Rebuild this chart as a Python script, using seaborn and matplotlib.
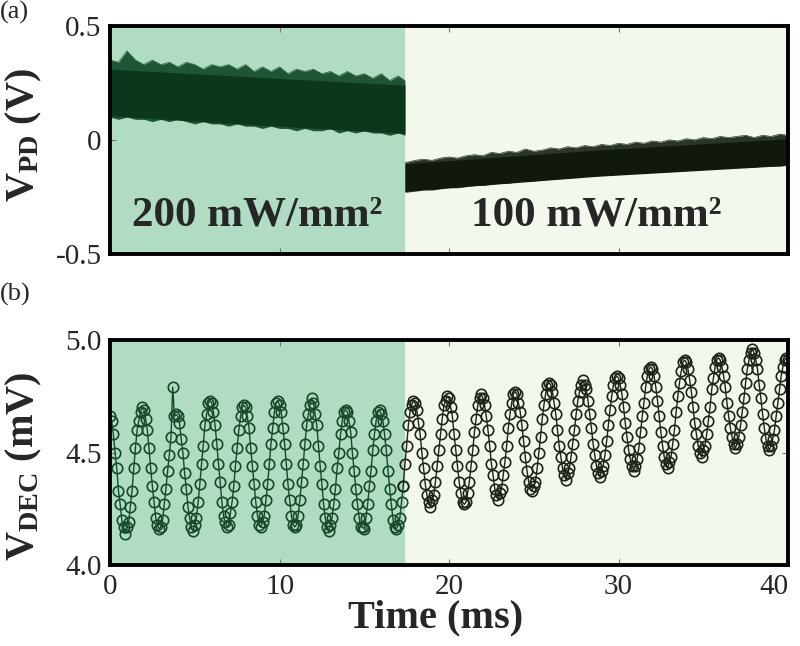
import numpy as np
import pandas as pd
import matplotlib
matplotlib.use("Agg")
import matplotlib.pyplot as plt
import seaborn as sns

# ---------------- data ----------------
t_switch = 17.4  # ms, power switch time

# (a) photodiode signal envelope, segment 1 (200 mW/mm2)
pd1_t = [0.0, 0.5, 1.0, 1.5, 2.0, 2.5, 3.0, 3.5, 4.0, 4.5, 5.0, 5.5, 6.0, 6.5, 7.0, 7.5,
         8.0, 8.5, 9.0, 9.5, 10.0, 10.5, 11.0, 11.5, 12.0, 12.5, 13.0, 13.5, 14.0, 14.5,
         15.0, 15.5, 16.0, 16.5, 17.0, 17.4]
pd1_upper = [0.35, 0.34, 0.39, 0.35, 0.33, 0.35, 0.33, 0.34, 0.32, 0.34, 0.33, 0.31, 0.33, 0.32,
             0.33, 0.31, 0.33, 0.30, 0.32, 0.30, 0.32, 0.29, 0.31, 0.30, 0.31, 0.29, 0.30, 0.28,
             0.30, 0.28, 0.29, 0.27, 0.29, 0.26, 0.28, 0.26]
pd1_lower = [0.10, 0.09, 0.10, 0.09, 0.09, 0.08, 0.09, 0.08, 0.09, 0.08, 0.07, 0.08, 0.07, 0.07,
             0.06, 0.07, 0.06, 0.06, 0.05, 0.06, 0.05, 0.05, 0.04, 0.05, 0.04, 0.04, 0.05, 0.03,
             0.04, 0.03, 0.04, 0.03, 0.03, 0.02, 0.03, 0.02]
pd1_core_t = [0.0, 8.7, 17.4]
pd1_core_upper = [0.31, 0.275, 0.24]
pd1_core_lower = [0.105, 0.065, 0.028]

# (a) segment 2 (100 mW/mm2)
pd2_t = [17.4, 18.0, 18.5, 19.0, 19.5, 20.0, 20.5, 21.0, 21.5, 22.0, 22.5, 23.0, 23.5, 24.0,
         24.5, 25.0, 25.5, 26.0, 26.5, 27.0, 27.5, 28.0, 28.5, 29.0, 29.5, 30.0, 30.5, 31.0,
         31.5, 32.0, 32.5, 33.0, 33.5, 34.0, 34.5, 35.0, 35.5, 36.0, 36.5, 37.0, 37.5, 38.0,
         38.5, 39.0, 39.5, 40.0]
pd2_upper = [-0.10, -0.09, -0.085, -0.09, -0.08, -0.075, -0.08, -0.07, -0.065, -0.07, -0.055,
             -0.06, -0.05, -0.055, -0.04, -0.05, -0.045, -0.035, -0.04, -0.03, -0.035, -0.025,
             -0.03, -0.02, -0.025, -0.015, -0.02, -0.01, -0.015, -0.005, -0.01, 0.0, -0.005,
             0.005, 0.0, 0.01, 0.005, 0.015, 0.01, 0.015, 0.02, 0.01, 0.02, 0.015, 0.025, 0.02]
pd2_lower = [-0.23, -0.225, -0.22, -0.22, -0.215, -0.21, -0.21, -0.205, -0.20, -0.20, -0.195,
             -0.19, -0.19, -0.185, -0.18, -0.18, -0.175, -0.17, -0.17, -0.165, -0.165, -0.16,
             -0.16, -0.155, -0.155, -0.15, -0.15, -0.145, -0.145, -0.14, -0.14, -0.14, -0.135,
             -0.135, -0.13, -0.13, -0.13, -0.125, -0.125, -0.12, -0.12, -0.12, -0.115, -0.115,
             -0.115, -0.11]
pd2_core_t = [17.4, 28.7, 40.0]
pd2_core_upper = [-0.105, -0.045, 0.005]
pd2_core_lower = [-0.225, -0.16, -0.112]

# (b) decoded signal, sampled every 0.1 ms from 0 to 40 ms
vdec = [
    4.66, 4.64, 4.58, 4.50, 4.43, 4.33, 4.27, 4.20, 4.17, 4.14, 4.17, 4.19, 4.26, 4.33, 4.43, 4.52, 4.60, 4.64, 4.68, 4.70,
    4.69, 4.65, 4.60, 4.52, 4.43, 4.35, 4.28, 4.21, 4.18, 4.16, 4.17, 4.20, 4.27, 4.34, 4.42, 4.49, 4.57, 4.79, 4.66, 4.67,
    4.66, 4.63, 4.56, 4.50, 4.41, 4.34, 4.26, 4.21, 4.17, 4.15, 4.18, 4.21, 4.28, 4.36, 4.45, 4.53, 4.62, 4.67, 4.72, 4.73,
    4.72, 4.68, 4.62, 4.54, 4.45, 4.37, 4.28, 4.22, 4.19, 4.17, 4.18, 4.23, 4.28, 4.35, 4.44, 4.52, 4.60, 4.66, 4.70, 4.71,
    4.70, 4.66, 4.61, 4.52, 4.44, 4.36, 4.28, 4.22, 4.18, 4.17, 4.19, 4.22, 4.29, 4.36, 4.45, 4.54, 4.61, 4.68, 4.72, 4.73,
    4.71, 4.68, 4.61, 4.54, 4.45, 4.36, 4.29, 4.22, 4.18, 4.17, 4.18, 4.22, 4.29, 4.37, 4.45, 4.54, 4.62, 4.67, 4.71, 4.74,
    4.72, 4.67, 4.62, 4.53, 4.44, 4.36, 4.27, 4.21, 4.17, 4.15, 4.18, 4.21, 4.27, 4.34, 4.43, 4.50, 4.58, 4.64, 4.68, 4.69,
    4.68, 4.64, 4.59, 4.50, 4.42, 4.34, 4.27, 4.21, 4.17, 4.17, 4.16, 4.21, 4.27, 4.35, 4.42, 4.51, 4.58, 4.64, 4.68, 4.69,
    4.67, 4.64, 4.58, 4.51, 4.42, 4.34, 4.27, 4.20, 4.17, 4.16, 4.18, 4.21, 4.28, 4.35, 4.45, 4.53, 4.62, 4.68, 4.71, 4.73,
    4.72, 4.69, 4.63, 4.58, 4.50, 4.43, 4.36, 4.31, 4.28, 4.26, 4.29, 4.31, 4.37, 4.44, 4.51, 4.58, 4.65, 4.71, 4.73, 4.75,
    4.74, 4.70, 4.66, 4.58, 4.51, 4.44, 4.37, 4.32, 4.28, 4.27, 4.28, 4.32, 4.37, 4.44, 4.51, 4.59, 4.65, 4.71, 4.74, 4.76,
    4.74, 4.71, 4.66, 4.60, 4.53, 4.45, 4.40, 4.34, 4.31, 4.29, 4.32, 4.34, 4.40, 4.46, 4.53, 4.61, 4.67, 4.72, 4.76, 4.77,
    4.76, 4.72, 4.68, 4.62, 4.55, 4.48, 4.42, 4.37, 4.34, 4.33, 4.35, 4.37, 4.43, 4.50, 4.57, 4.65, 4.71, 4.76, 4.80, 4.81,
    4.80, 4.77, 4.72, 4.67, 4.60, 4.53, 4.48, 4.43, 4.40, 4.38, 4.41, 4.43, 4.48, 4.54, 4.60, 4.67, 4.73, 4.77, 4.80, 4.82,
    4.80, 4.78, 4.73, 4.67, 4.61, 4.54, 4.49, 4.44, 4.41, 4.39, 4.42, 4.44, 4.49, 4.55, 4.62, 4.69, 4.75, 4.80, 4.83, 4.84,
    4.83, 4.80, 4.76, 4.70, 4.63, 4.57, 4.51, 4.47, 4.44, 4.42, 4.44, 4.47, 4.52, 4.59, 4.66, 4.72, 4.79, 4.84, 4.87, 4.88,
    4.87, 4.84, 4.79, 4.73, 4.66, 4.59, 4.53, 4.48, 4.45, 4.43, 4.46, 4.48, 4.54, 4.60, 4.68, 4.75, 4.81, 4.86, 4.90, 4.91,
    4.90, 4.87, 4.82, 4.77, 4.70, 4.63, 4.58, 4.53, 4.50, 4.48, 4.51, 4.53, 4.58, 4.64, 4.70, 4.78, 4.83, 4.88, 4.91, 4.92,
    4.91, 4.88, 4.84, 4.79, 4.72, 4.66, 4.61, 4.57, 4.54, 4.52, 4.54, 4.57, 4.62, 4.68, 4.74, 4.81, 4.87, 4.91, 4.94, 4.96,
    4.94, 4.91, 4.87, 4.80, 4.74, 4.67, 4.61, 4.56, 4.53, 4.51, 4.53, 4.56, 4.60, 4.66, 4.72, 4.78, 4.84, 4.88, 4.91, 4.92,
    4.91,
]
time_ms = np.round(np.arange(len(vdec)) * 0.1, 1)

xticks = [0, 10, 20, 30, 40]
xticklabels = ["0", "10", "20", "30", "40"]
yticks_a = [-0.5, 0, 0.5]
yticklabels_a = ["-0.5", "0", "0.5"]
yticks_b = [4.0, 4.5, 5.0]
yticklabels_b = ["4.0", "4.5", "5.0"]
region_labels = ["200 mW/mm²", "100 mW/mm²"]

# ---------------- style ----------------
sns.set_theme(style="ticks")
plt.rcParams["font.family"] = ["Liberation Serif", "DejaVu Serif"]
plt.rcParams["mathtext.fontset"] = "custom"
plt.rcParams["mathtext.rm"] = "Liberation Serif"
plt.rcParams["mathtext.bf"] = "Liberation Serif:bold"
plt.rcParams["mathtext.it"] = "Liberation Serif:italic"

bg1 = "#afdcc3"
bg2 = "#f2f8ec"
c1 = "#0b381d"
c1_light = "#1f5535"
c2 = "#11190f"
c2_light = "#2b3528"
mk1 = "#164a2a"
mk2 = "#1d2419"

fig = plt.figure(figsize=(8.0, 6.46), dpi=100)
ax1 = fig.add_axes([0.1375, 0.607, 0.8475, 0.353])
ax2 = fig.add_axes([0.1375, 0.125, 0.8475, 0.349])

tick_fs = 21
lab_fs = 29

for ax in (ax1, ax2):
    ax.axvspan(0, t_switch, color=bg1, lw=0, zorder=0)
    ax.axvspan(t_switch, 40, color=bg2, lw=0, zorder=0)
    ax.set_xlim(0, 40)
    ax.set_xticks(xticks)
    ax.tick_params(axis="both", direction="in", length=4, width=0.8, color="#777777",
                   top=True, right=True, labelsize=tick_fs, pad=6)
    for s in ax.spines.values():
        s.set_linewidth(2.8)
        s.set_color("black")
        s.set_zorder(5)

# ---- panel (a)
ax1.fill_between(pd1_t, pd1_lower, pd1_upper, color=c1_light, lw=0, zorder=2)
ax1.fill_between(pd1_core_t, pd1_core_lower, pd1_core_upper, color=c1, lw=0, zorder=3)
ax1.fill_between(pd2_t, pd2_lower, pd2_upper, color=c2_light, lw=0, zorder=2)
ax1.fill_between(pd2_core_t, pd2_core_lower, pd2_core_upper, color=c2, lw=0, zorder=3)
sns.lineplot(x=pd1_t, y=pd1_upper, ax=ax1, color=c1_light, lw=0.5, zorder=2)
sns.lineplot(x=pd2_t, y=pd2_upper, ax=ax1, color=c2_light, lw=0.5, zorder=2)
ax1.set_ylim(-0.5, 0.5)
ax1.set_yticks(yticks_a)
ax1.set_yticklabels(yticklabels_a)
ax1.set_xticklabels([])
ax1.set_ylabel(r"$\mathbf{V}_{\mathbf{PD}}$ (V)", fontsize=lab_fs, fontweight="bold")
ax1.yaxis.set_label_coords(-0.098, 0.52)
ax1.text(8.7, -0.33, region_labels[0], fontsize=31, fontweight="bold", ha="center", va="center", zorder=6)
ax1.text(28.7, -0.33, region_labels[1], fontsize=31, fontweight="bold", ha="center", va="center", zorder=6)

# ---- panel (b)
df = pd.DataFrame({"t": time_ms, "v": vdec})
seg1 = df[df["t"] < t_switch]
seg2 = df[df["t"] >= t_switch - 0.1]
sns.lineplot(data=seg1, x="t", y="v", ax=ax2, color=mk1, lw=1.0, marker="o", markersize=7.5,
             markerfacecolor="none", markeredgecolor=mk1, markeredgewidth=1.2, zorder=3)
sns.lineplot(data=seg2, x="t", y="v", ax=ax2, color=mk2, lw=1.0, marker="o", markersize=7.5,
             markerfacecolor="none", markeredgecolor=mk2, markeredgewidth=1.2, zorder=3)
ax2.set_ylim(4.0, 5.0)
ax2.set_yticks(yticks_b)
ax2.set_yticklabels(yticklabels_b)
ax2.set_xticklabels(xticklabels)
for lbl in ax2.get_xticklabels():
    if lbl.get_text() == "40":
        lbl.set_horizontalalignment("right")
        lbl.set_x(lbl.get_position()[0])
ax2.set_ylabel(r"$\mathbf{V}_{\mathbf{DEC}}$ (mV)", fontsize=lab_fs, fontweight="bold")
ax2.yaxis.set_label_coords(-0.098, 0.44)
ax2.set_xlabel("Time (ms)", fontsize=lab_fs, fontweight="bold")
ax2.xaxis.set_label_coords(0.48, -0.15)

fig.text(0.0, 0.998, "(a)", fontsize=19, ha="left", va="top")
fig.text(0.0, 0.562, "(b)", fontsize=19, ha="left", va="top")

fig.savefig("out.png", dpi=100)
